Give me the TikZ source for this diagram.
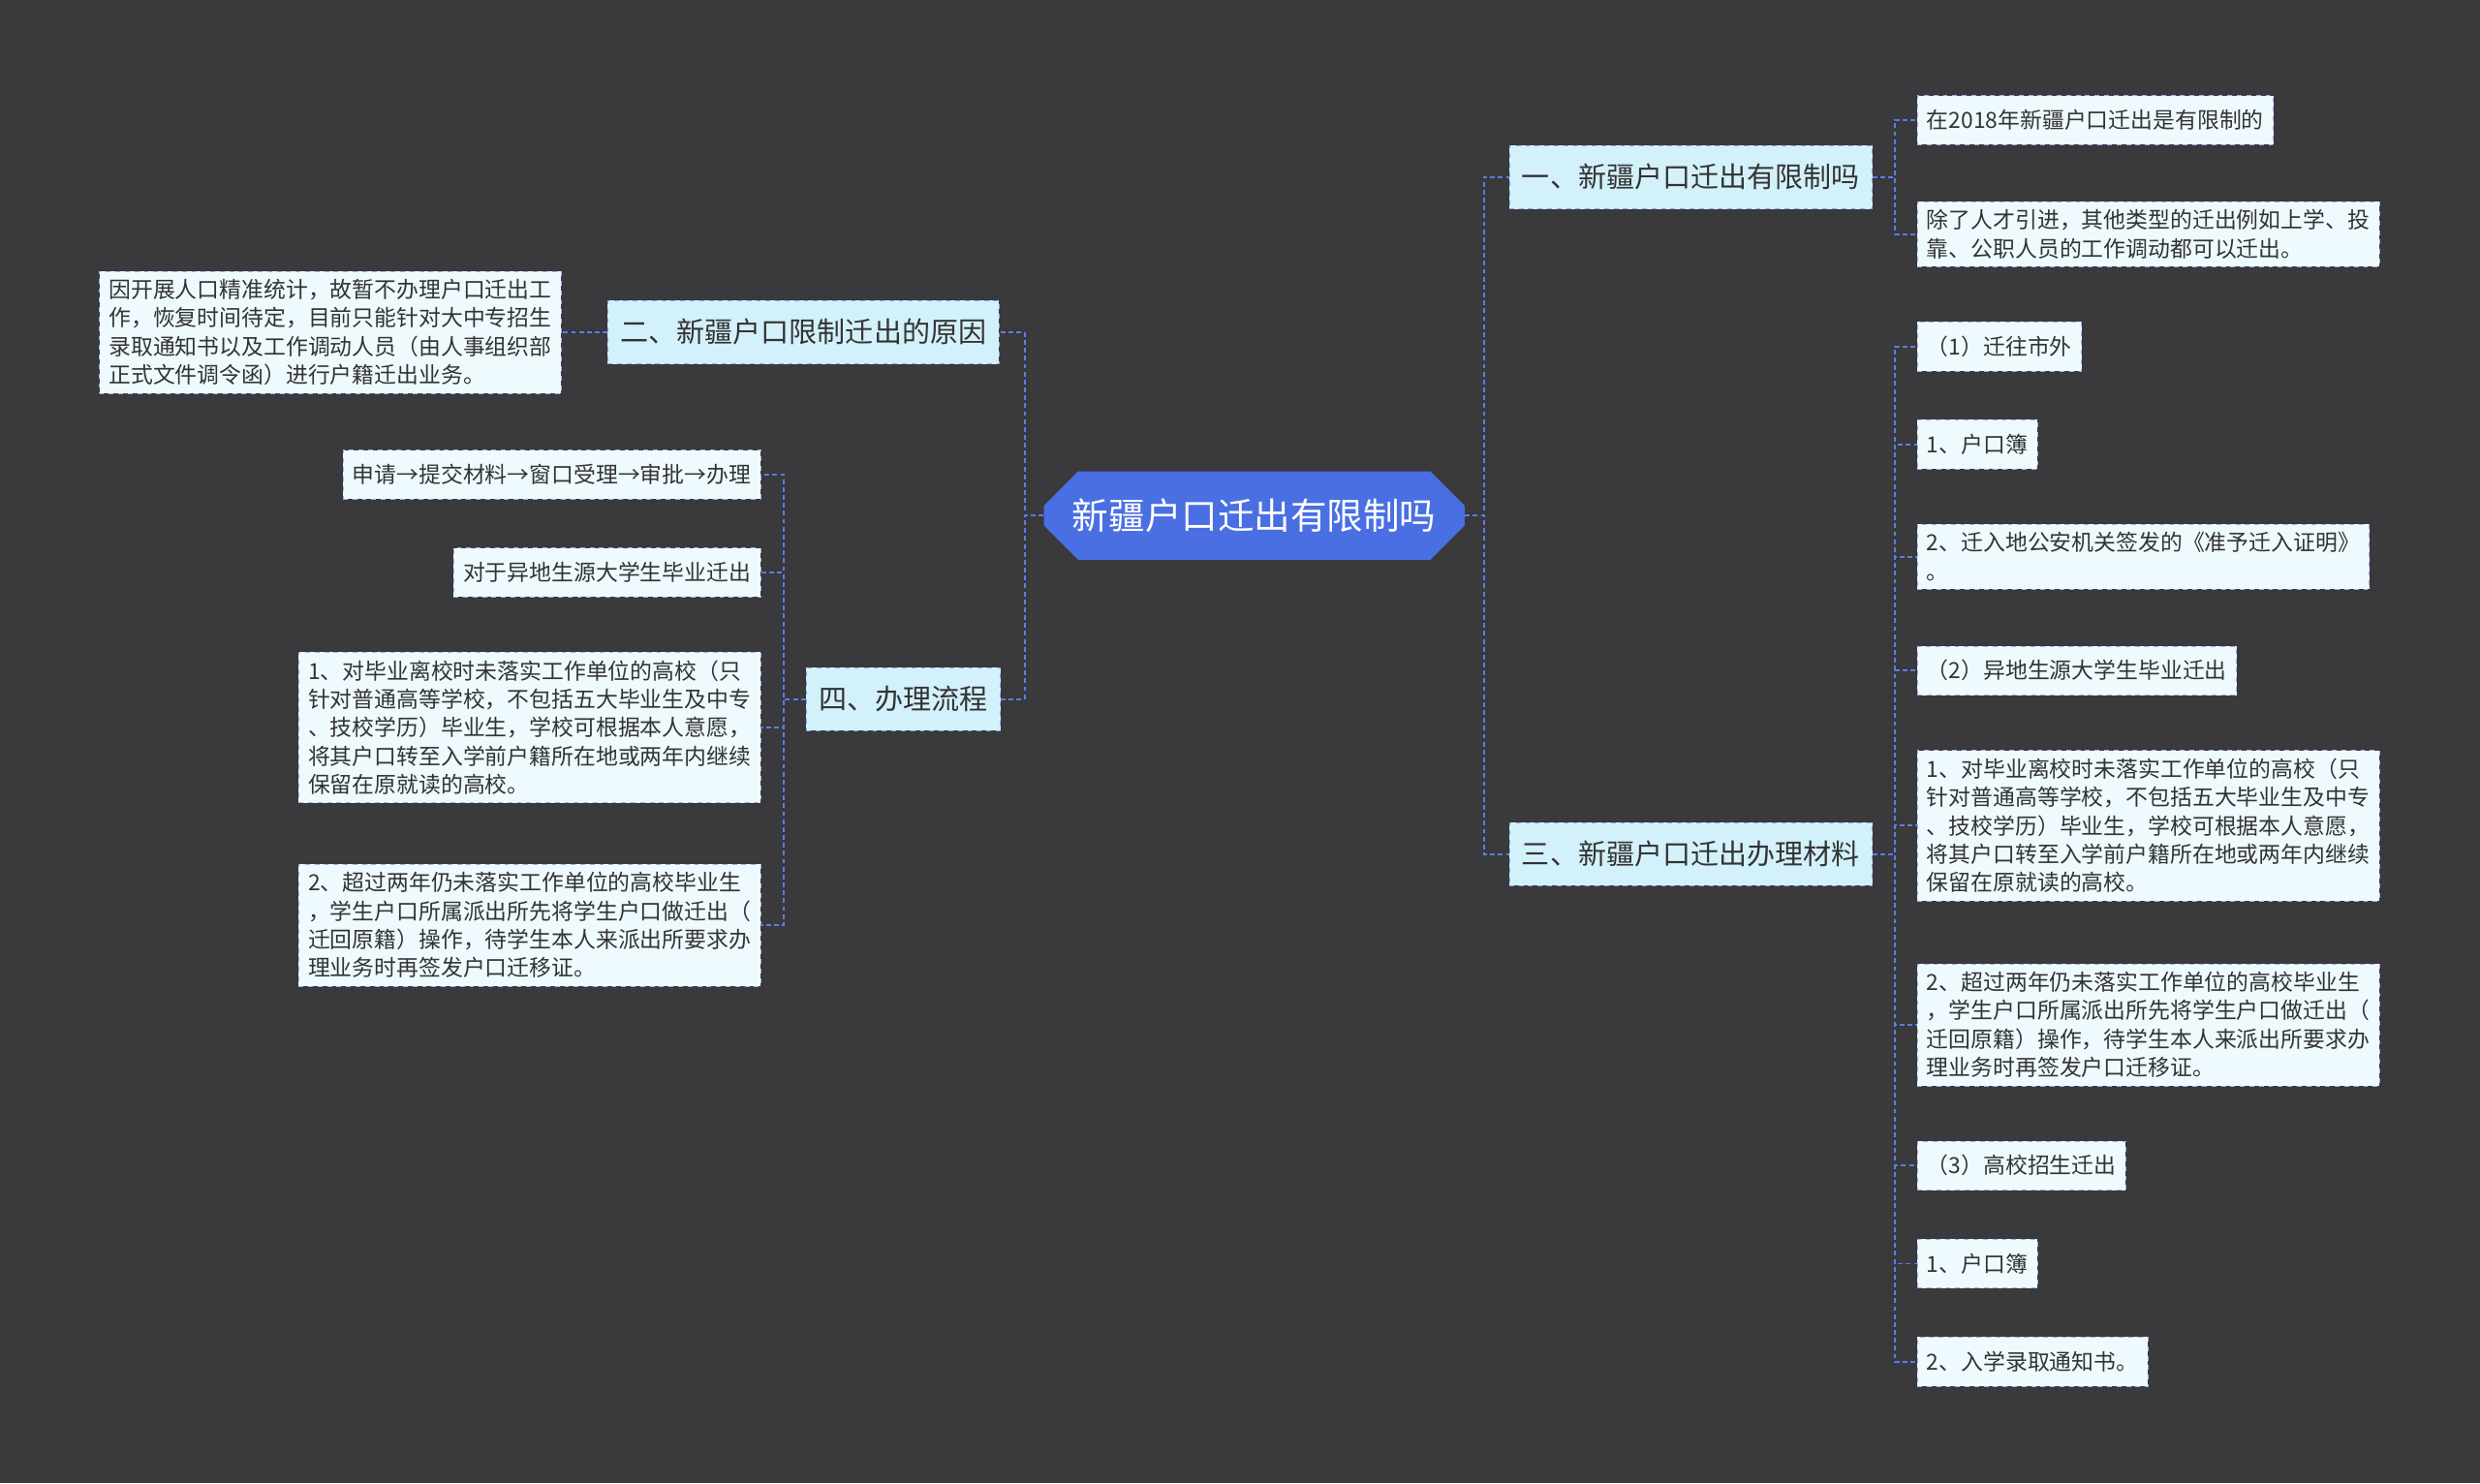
\documentclass[tikz,border=0pt]{standalone}
\usepackage{fontspec}
\setmainfont{Noto Sans CJK SC}
\usetikzlibrary{shapes.misc}
\definecolor{bg}{HTML}{3A393B}
\definecolor{rootblue}{HTML}{4A6FE3}
\definecolor{linkblue}{HTML}{5B7DE8}
\definecolor{leaffill}{HTML}{EEFAFD}
\definecolor{midfill}{HTML}{D3F1FA}
\definecolor{txt}{HTML}{333333}
\begin{document}
\begin{tikzpicture}[x=1pt,y=-1pt,
  link/.style={draw=linkblue,dashed,line width=1.2pt,dash pattern=on 3pt off 2pt},
  root/.style={chamfered rectangle,chamfered rectangle xsep=8pt,chamfered rectangle sep=11pt,fill=rootblue,
    text=white,font=\fontsize{23}{27}\selectfont,minimum height=56pt,minimum width=266pt,inner sep=0pt},
  mid/.style={rectangle,fill=midfill,draw=linkblue!70,dashed,text=txt,font=\fontsize{17.8}{21}\selectfont,
    minimum height=40pt,inner xsep=8pt},
  leaf/.style={rectangle,fill=leaffill,draw=linkblue!60,dashed,text=txt,align=left,
    font=\fontsize{14}{18}\selectfont,minimum height=31pt,inner xsep=6pt,inner ysep=5pt}]

  \fill[bg] (0,0) rectangle (1568,938);

  \node[root] (root) at (793,326) {新疆户口迁出有限制吗};

  \node[mid] (m1) at (1069,112) {一、新疆户口迁出有限制吗};
  \node[mid] (m3) at (1069,540) {三、新疆户口迁出办理材料};
  \node[mid] (m2) at (508,210) {二、新疆户口限制迁出的原因};
  \node[mid] (m4) at (571,442) {四、办理流程};

  % right leaves
  \node[leaf,anchor=west] (a1) at (1212,76) {在2018年新疆户口迁出是有限制的};
  \node[leaf,anchor=west] (a2) at (1212,148) {除了人才引进，其他类型的迁出例如上学、投\\靠、公职人员的工作调动都可以迁出。};

  \node[leaf,anchor=west] (b1) at (1212,219) {（1）迁往市外};
  \node[leaf,anchor=west] (b2) at (1212,281) {1、户口簿};
  \node[leaf,anchor=west] (b3) at (1212,352) {2、迁入地公安机关签发的《准予迁入证明》\\。};
  \node[leaf,anchor=west] (b4) at (1212,424) {（2）异地生源大学生毕业迁出};
  \node[leaf,anchor=west] (b5) at (1212,522) {1、对毕业离校时未落实工作单位的高校（只\\针对普通高等学校，不包括五大毕业生及中专\\、技校学历）毕业生，学校可根据本人意愿，\\将其户口转至入学前户籍所在地或两年内继续\\保留在原就读的高校。};
  \node[leaf,anchor=west] (b6) at (1212,648) {2、超过两年仍未落实工作单位的高校毕业生\\，学生户口所属派出所先将学生户口做迁出（\\迁回原籍）操作，待学生本人来派出所要求办\\理业务时再签发户口迁移证。};
  \node[leaf,anchor=west] (b7) at (1212,737) {（3）高校招生迁出};
  \node[leaf,anchor=west] (b8) at (1212,799) {1、户口簿};
  \node[leaf,anchor=west] (b9) at (1212,861) {2、入学录取通知书。};

  % left leaves
  \node[leaf,anchor=east] (c1) at (355,210) {因开展人口精准统计，故暂不办理户口迁出工\\作，恢复时间待定，目前只能针对大中专招生\\录取通知书以及工作调动人员（由人事组织部\\正式文件调令函）进行户籍迁出业务。};

  \node[leaf,anchor=east] (d1) at (481,300) {申请→提交材料→窗口受理→审批→办理};
  \node[leaf,anchor=east] (d2) at (481,362) {对于异地生源大学生毕业迁出};
  \node[leaf,anchor=east] (d3) at (481,460) {1、对毕业离校时未落实工作单位的高校（只\\针对普通高等学校，不包括五大毕业生及中专\\、技校学历）毕业生，学校可根据本人意愿，\\将其户口转至入学前户籍所在地或两年内继续\\保留在原就读的高校。};
  \node[leaf,anchor=east] (d4) at (481,585) {2、超过两年仍未落实工作单位的高校毕业生\\，学生户口所属派出所先将学生户口做迁出（\\迁回原籍）操作，待学生本人来派出所要求办\\理业务时再签发户口迁移证。};

  % connectors
  \foreach \m in {m1,m3}
    \draw[link] (root.east) -- ++(12,0) |- (\m.west);
  \foreach \m in {m2,m4}
    \draw[link] (root.west) -- ++(-12,0) |- (\m.east);
  \foreach \l in {a1,a2}
    \draw[link] (m1.east) -- ++(14,0) |- (\l.west);
  \foreach \l in {b1,b2,b3,b4,b5,b6,b7,b8,b9}
    \draw[link] (m3.east) -- ++(14,0) |- (\l.west);
  \draw[link] (m2.west) -- ++(-13,0) |- (c1.east);
  \foreach \l in {d1,d2,d3,d4}
    \draw[link] (m4.west) -- ++(-14,0) |- (\l.east);
\end{tikzpicture}
\end{document}
